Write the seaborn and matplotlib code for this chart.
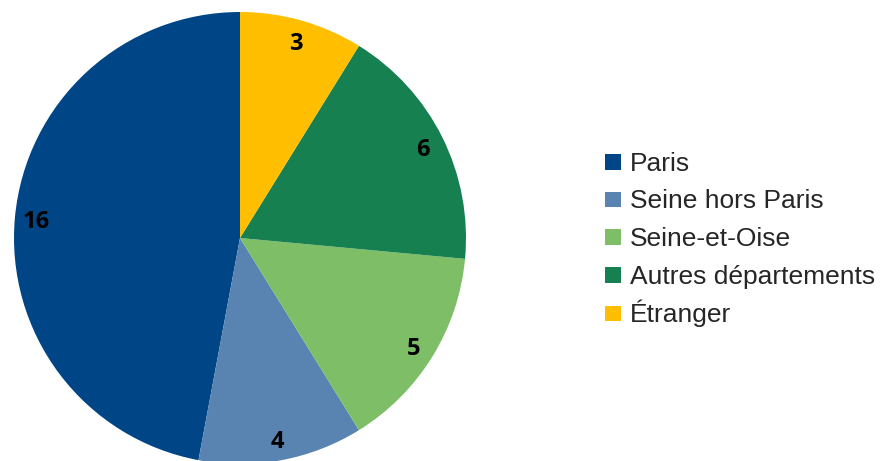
import matplotlib
matplotlib.use('Agg')
import matplotlib.pyplot as plt
import matplotlib.patches as mpatches
from matplotlib.legend_handler import HandlerPatch
import seaborn as sns

sns.set_theme(style='white')
plt.rcParams['font.family'] = ['Liberation Sans', 'DejaVu Sans']

# ========== données ==========
categories = ['Paris', 'Seine hors Paris', 'Seine-et-Oise', 'Autres départements', 'Étranger']
values = [16, 4, 5, 6, 3]
colors = ['#004586', '#5983b0', '#7dbe66', '#178050', '#ffbf00']

# ========== figure ==========
fig = plt.figure(figsize=(8.8, 4.61), dpi=100)
ax = fig.add_axes([14 / 880, (461 - 238 - 226) / 461, 452 / 880, 452 / 461])

wedges, texts = ax.pie(values, colors=colors, startangle=90, counterclock=True,
                       labels=[str(v) for v in values], labeldistance=0.905,
                       wedgeprops={'linewidth': 0})
for t in texts:
    t.set_fontfamily(['Open Sans', 'DejaVu Sans'])
    t.set_fontweight('bold')
    t.set_fontsize(17)
    t.set_color('black')
    t.set_ha('center')
    t.set_va('center_baseline')
ax.set_xlim(-1, 1)
ax.set_ylim(-1, 1)
ax.set_aspect('equal')
ax.axis('off')


# petit carré centré dans la case de la légende
def small_square(legend, orig_handle, xdescent, ydescent, width, height, fontsize):
    s = 0.6 * fontsize
    return mpatches.Rectangle((-xdescent + (width - s) / 2, -ydescent + (height - s) / 2), s, s)


handles = [mpatches.Patch(facecolor=c, edgecolor='none') for c in colors]
fig.legend(handles, categories, loc='center left', bbox_to_anchor=(0.674, 0.4837),
           frameon=False, fontsize=19, handlelength=0.7, handleheight=1.15,
           handletextpad=0.3, labelspacing=0.41, borderaxespad=0,
           handler_map={mpatches.Patch: HandlerPatch(patch_func=small_square)})

fig.savefig('out.png', dpi=100)
